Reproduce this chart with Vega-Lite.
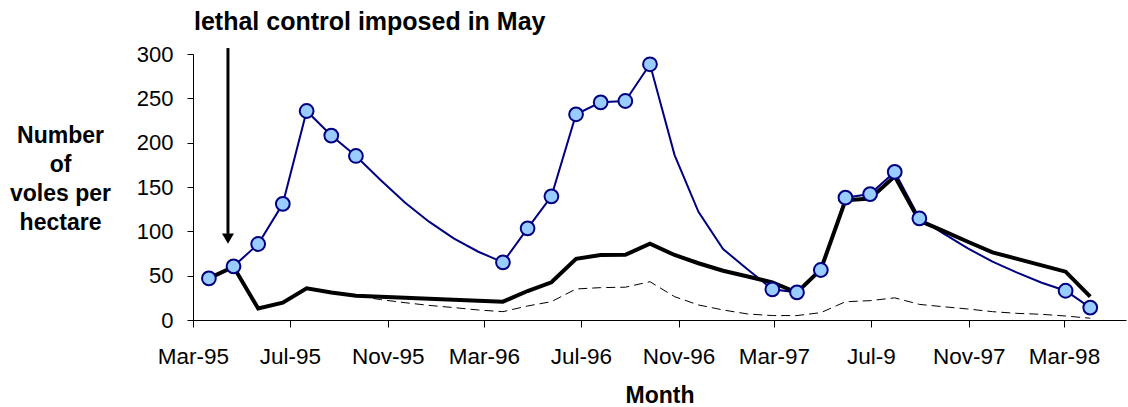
{
  "$schema": "https://vega.github.io/schema/vega-lite/v6.json",
  "width": 933,
  "height": 266,
  "autosize": {"type": "none"},
  "padding": {"left": 193, "top": 54, "right": 2, "bottom": 87},
  "background": "white",
  "config": {
    "view": {"stroke": null},
    "font": "Liberation Sans",
    "axis": {"domainColor": "black", "tickColor": "black", "labelColor": "black", "titleColor": "black", "grid": false, "labelFont": "Liberation Sans", "titleFont": "Liberation Sans", "domainWidth": 1, "tickWidth": 1}
  },
  "title": {"text": "lethal control imposed in May", "anchor": "start", "frame": "group", "fontSize": 25, "fontWeight": "bold", "font": "Liberation Sans", "color": "black", "baseline": "alphabetic", "offset": 13, "dy": 25, "dx": 1},
  "datasets": {
    "main": [
      {"date": "1995-03-21", "series": "blue", "value": 47, "observed": true},
      {"date": "1995-04-21", "series": "blue", "value": 60.5, "observed": true},
      {"date": "1995-05-22", "series": "blue", "value": 85.7, "observed": true},
      {"date": "1995-06-22", "series": "blue", "value": 131, "observed": true},
      {"date": "1995-07-22", "series": "blue", "value": 235.7, "observed": true},
      {"date": "1995-08-22", "series": "blue", "value": 208, "observed": true},
      {"date": "1995-09-22", "series": "blue", "value": 185, "observed": true},
      {"date": "1995-10-23", "series": "blue", "value": 158, "observed": false},
      {"date": "1995-11-23", "series": "blue", "value": 132.3, "observed": false},
      {"date": "1995-12-23", "series": "blue", "value": 110.9, "observed": false},
      {"date": "1996-01-23", "series": "blue", "value": 92.1, "observed": false},
      {"date": "1996-02-23", "series": "blue", "value": 77, "observed": false},
      {"date": "1996-03-25", "series": "blue", "value": 65, "observed": true},
      {"date": "1996-04-25", "series": "blue", "value": 103.4, "observed": true},
      {"date": "1996-05-25", "series": "blue", "value": 139.5, "observed": true},
      {"date": "1996-06-25", "series": "blue", "value": 232, "observed": true},
      {"date": "1996-07-26", "series": "blue", "value": 245.5, "observed": true},
      {"date": "1996-08-26", "series": "blue", "value": 247, "observed": true},
      {"date": "1996-09-26", "series": "blue", "value": 288.4, "observed": true},
      {"date": "1996-10-27", "series": "blue", "value": 186, "observed": false},
      {"date": "1996-11-26", "series": "blue", "value": 122, "observed": false},
      {"date": "1996-12-27", "series": "blue", "value": 80, "observed": false},
      {"date": "1997-01-27", "series": "blue", "value": 57, "observed": false},
      {"date": "1997-02-27", "series": "blue", "value": 34.6, "observed": true},
      {"date": "1997-03-30", "series": "blue", "value": 31.2, "observed": true},
      {"date": "1997-04-29", "series": "blue", "value": 56.4, "observed": true},
      {"date": "1997-05-30", "series": "blue", "value": 138, "observed": true},
      {"date": "1997-06-30", "series": "blue", "value": 142, "observed": true},
      {"date": "1997-07-31", "series": "blue", "value": 167, "observed": true},
      {"date": "1997-08-31", "series": "blue", "value": 114.7, "observed": true},
      {"date": "1997-09-30", "series": "blue", "value": 97.7, "observed": false},
      {"date": "1997-10-31", "series": "blue", "value": 80.8, "observed": false},
      {"date": "1997-12-01", "series": "blue", "value": 65.8, "observed": false},
      {"date": "1998-01-01", "series": "blue", "value": 53.4, "observed": false},
      {"date": "1998-02-01", "series": "blue", "value": 42, "observed": false},
      {"date": "1998-03-03", "series": "blue", "value": 33, "observed": true},
      {"date": "1998-04-03", "series": "blue", "value": 14, "observed": true},

      {"date": "1995-03-21", "series": "black", "value": 47},
      {"date": "1995-04-21", "series": "black", "value": 60},
      {"date": "1995-05-22", "series": "black", "value": 13},
      {"date": "1995-06-22", "series": "black", "value": 19.5},
      {"date": "1995-07-22", "series": "black", "value": 35.7},
      {"date": "1995-08-22", "series": "black", "value": 31},
      {"date": "1995-09-22", "series": "black", "value": 27.4},
      {"date": "1995-10-23", "series": "black", "value": 26.3},
      {"date": "1995-11-23", "series": "black", "value": 25.2},
      {"date": "1995-12-23", "series": "black", "value": 24},
      {"date": "1996-01-23", "series": "black", "value": 22.9},
      {"date": "1996-02-23", "series": "black", "value": 21.8},
      {"date": "1996-03-25", "series": "black", "value": 20.7},
      {"date": "1996-04-25", "series": "black", "value": 32.7},
      {"date": "1996-05-25", "series": "black", "value": 42.5},
      {"date": "1996-06-25", "series": "black", "value": 69},
      {"date": "1996-07-26", "series": "black", "value": 73.3},
      {"date": "1996-08-26", "series": "black", "value": 73.5},
      {"date": "1996-09-26", "series": "black", "value": 86},
      {"date": "1996-10-27", "series": "black", "value": 73.3},
      {"date": "1996-11-26", "series": "black", "value": 64},
      {"date": "1996-12-27", "series": "black", "value": 55.6},
      {"date": "1997-01-27", "series": "black", "value": 49},
      {"date": "1997-02-27", "series": "black", "value": 42.5},
      {"date": "1997-03-30", "series": "black", "value": 31},
      {"date": "1997-04-29", "series": "black", "value": 57},
      {"date": "1997-05-30", "series": "black", "value": 135},
      {"date": "1997-06-30", "series": "black", "value": 137},
      {"date": "1997-07-31", "series": "black", "value": 162},
      {"date": "1997-08-31", "series": "black", "value": 112},
      {"date": "1997-09-30", "series": "black", "value": 100.5},
      {"date": "1997-10-31", "series": "black", "value": 88.3},
      {"date": "1997-12-01", "series": "black", "value": 76.3},
      {"date": "1998-01-01", "series": "black", "value": 69},
      {"date": "1998-02-01", "series": "black", "value": 61.6},
      {"date": "1998-03-03", "series": "black", "value": 54.5},
      {"date": "1998-04-03", "series": "black", "value": 26.3},

      {"date": "1995-03-21", "series": "dashed", "value": 47},
      {"date": "1995-04-21", "series": "dashed", "value": 60},
      {"date": "1995-05-22", "series": "dashed", "value": 13},
      {"date": "1995-06-22", "series": "dashed", "value": 19.5},
      {"date": "1995-07-22", "series": "dashed", "value": 35.7},
      {"date": "1995-08-22", "series": "dashed", "value": 31},
      {"date": "1995-09-22", "series": "dashed", "value": 27.4},
      {"date": "1995-10-23", "series": "dashed", "value": 23},
      {"date": "1995-11-23", "series": "dashed", "value": 19.5},
      {"date": "1995-12-23", "series": "dashed", "value": 16.5},
      {"date": "1996-01-23", "series": "dashed", "value": 14},
      {"date": "1996-02-23", "series": "dashed", "value": 11.3},
      {"date": "1996-03-25", "series": "dashed", "value": 9.4},
      {"date": "1996-04-25", "series": "dashed", "value": 15.8},
      {"date": "1996-05-25", "series": "dashed", "value": 20.7},
      {"date": "1996-06-25", "series": "dashed", "value": 35},
      {"date": "1996-07-26", "series": "dashed", "value": 36.5},
      {"date": "1996-08-26", "series": "dashed", "value": 37},
      {"date": "1996-09-26", "series": "dashed", "value": 43.2},
      {"date": "1996-10-27", "series": "dashed", "value": 26.3},
      {"date": "1996-11-26", "series": "dashed", "value": 17},
      {"date": "1996-12-27", "series": "dashed", "value": 11.3},
      {"date": "1997-01-27", "series": "dashed", "value": 6.8},
      {"date": "1997-02-27", "series": "dashed", "value": 5},
      {"date": "1997-03-30", "series": "dashed", "value": 5},
      {"date": "1997-04-29", "series": "dashed", "value": 8.3},
      {"date": "1997-05-30", "series": "dashed", "value": 20.6},
      {"date": "1997-06-30", "series": "dashed", "value": 21.8},
      {"date": "1997-07-31", "series": "dashed", "value": 25},
      {"date": "1997-08-31", "series": "dashed", "value": 17.6},
      {"date": "1997-09-30", "series": "dashed", "value": 15},
      {"date": "1997-10-31", "series": "dashed", "value": 12.4},
      {"date": "1997-12-01", "series": "dashed", "value": 9.4},
      {"date": "1998-01-01", "series": "dashed", "value": 7.5},
      {"date": "1998-02-01", "series": "dashed", "value": 6.4},
      {"date": "1998-03-03", "series": "dashed", "value": 4.5},
      {"date": "1998-04-03", "series": "dashed", "value": 2}
    ],
    "arrow": [
      {"date": "1995-04-14", "value": 306.7, "value2": 96}
    ],
    "arrowhead": [
      {"date": "1995-04-14", "value": 91.8}
    ]
  },
  "encoding": {
    "x": {
      "field": "date",
      "type": "temporal",
      "scale": {"type": "utc", "domain": [{"year": 1995, "month": 3, "date": 1, "utc": true}, {"year": 1998, "month": 5, "date": 18, "utc": true}]},
      "axis": {
        "values": [
          {"year": 1995, "month": 3, "date": 1, "utc": true},
          {"year": 1995, "month": 7, "date": 1, "utc": true},
          {"year": 1995, "month": 11, "date": 1, "utc": true},
          {"year": 1996, "month": 3, "date": 1, "utc": true},
          {"year": 1996, "month": 7, "date": 1, "utc": true},
          {"year": 1996, "month": 11, "date": 1, "utc": true},
          {"year": 1997, "month": 3, "date": 1, "utc": true},
          {"year": 1997, "month": 7, "date": 1, "utc": true},
          {"year": 1997, "month": 11, "date": 1, "utc": true},
          {"year": 1998, "month": 3, "date": 1, "utc": true}
        ],
        "labelExpr": "utcFormat(datum.value, '%b-%y') == 'Jul-97' ? 'Jul-9' : utcFormat(datum.value, '%b-%y')",
        "labelFontSize": 22.5,
        "labelPadding": 36,
        "labelBaseline": "alphabetic",
        "labelFlush": false,
        "labelOverlap": false,
        "tickSize": 7,
        "title": "Month",
        "titleFontSize": 23,
        "titleFontWeight": "bold",
        "titleY": 82,
        "titleBaseline": "alphabetic"
      }
    },
    "y": {
      "field": "value",
      "type": "quantitative",
      "scale": {"domain": [0, 300], "nice": false},
      "axis": {
        "values": [0, 50, 100, 150, 200, 250, 300],
        "labelFontSize": 22,
        "labelPadding": 14,
        "tickSize": 6,
        "title": ["Number", "of", "voles per", "hectare"],
        "titleAngle": 0,
        "titleAlign": "center",
        "titleBaseline": "alphabetic",
        "titleX": -133,
        "titleY": 88,
        "titleFontSize": 23,
        "titleFontWeight": "bold",
        "titleLineHeight": 29
      }
    }
  },
  "layer": [
    {
      "data": {"name": "main"},
      "transform": [{"filter": "datum.series == 'dashed'"}],
      "mark": {"type": "line", "color": "black", "strokeWidth": 1, "strokeDash": [9, 5]}
    },
    {
      "data": {"name": "main"},
      "transform": [{"filter": "datum.series == 'blue'"}],
      "mark": {"type": "line", "color": "#000080", "strokeWidth": 2}
    },
    {
      "data": {"name": "main"},
      "transform": [{"filter": "datum.series == 'black'"}],
      "mark": {"type": "line", "color": "black", "strokeWidth": 4}
    },
    {
      "data": {"name": "main"},
      "transform": [{"filter": "datum.series == 'blue' && datum.observed"}],
      "mark": {"type": "circle", "size": 190, "fill": "#99CCFF", "stroke": "#000080", "strokeWidth": 2, "opacity": 1}
    },
    {
      "data": {"name": "arrow"},
      "mark": {"type": "rule", "color": "black", "strokeWidth": 3},
      "encoding": {"y2": {"field": "value2"}}
    },
    {
      "data": {"name": "arrowhead"},
      "mark": {"type": "point", "shape": "triangle-down", "filled": true, "fill": "black", "color": "black", "size": 144, "strokeWidth": 0, "opacity": 1}
    }
  ]
}
